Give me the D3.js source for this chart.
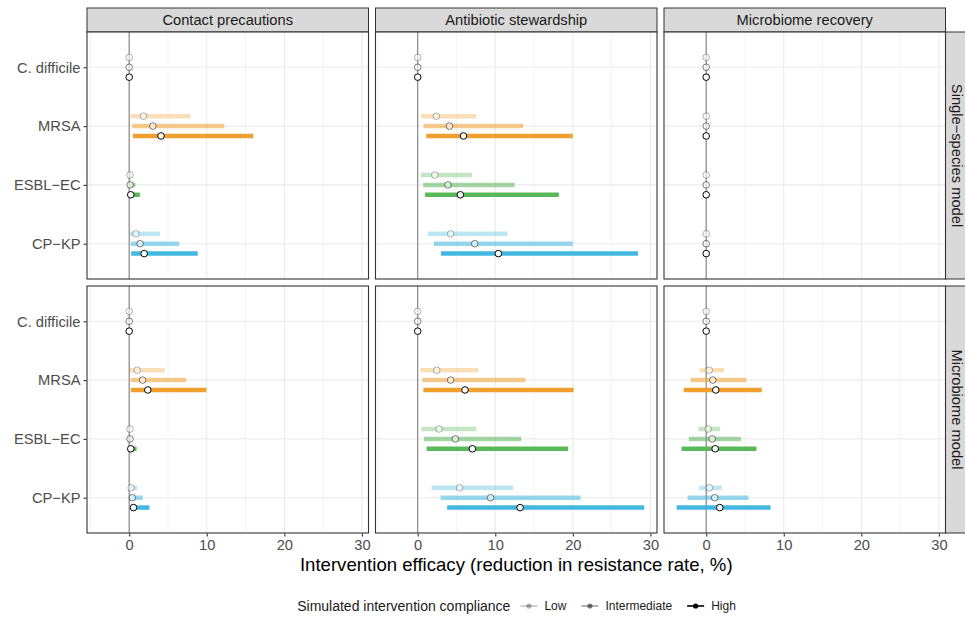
<!DOCTYPE html>
<html><head><meta charset="utf-8">
<script src="https://cdn.jsdelivr.net/npm/d3@7"></script>
<style>
body{margin:0;background:#fff}
svg{display:block}
text{font-family:"Liberation Sans",Arial,Helvetica,sans-serif}
</style>
</head><body>
<svg id="chart" width="965" height="617"></svg>
<script>
// ---------- data ----------
const interventions = ["Contact precautions", "Antibiotic stewardship", "Microbiome recovery"];
const models = ["Single\u2212species model", "Microbiome model"];
const organisms = ["C. difficile", "MRSA", "ESBL\u2212EC", "CP\u2212KP"];
const compliance = ["Low", "Intermediate", "High"];
const organismColors = ["#9a9a9a", "#F0A030", "#5AB75A", "#42B8E0"];
const xTickValues = [0, 10, 20, 30];
const xMinorValues = [-5, 5, 15, 25];

// each array: organism-major (C. difficile, MRSA, ESBL-EC, CP-KP), compliance-minor (Low, Intermediate, High)
// Single-species model
const ssContactMid = [0,0,0,  1.84,3.05,4.1,   0.1,0.13,0.2,  0.86,1.41,1.93];
const ssContactLo  = [0,0,0,  0.2,0.4,0.47,    0,0,0.2,       0.13,0.2,0.26];
const ssContactHi  = [0,0,0,  7.84,12.25,16.0, 0.3,0.8,1.37,  3.98,6.47,8.83];
const ssStewMid = [0,0,0,  2.4,4.1,5.9,    2.2,3.9,5.5,    4.25,7.35,10.4];
const ssStewLo  = [0,0,0,  0.45,0.75,1.1,  0.4,0.7,0.95,   1.3,2.1,3.0];
const ssStewHi  = [0,0,0,  7.55,13.6,20.0, 7.0,12.5,18.2,  11.6,20.0,28.4];
const ssMicroMid = [0,0,0, 0,0,0, 0,0,0, 0,0,0];
const ssMicroLo  = [0,0,0, 0,0,0, 0,0,0, 0,0,0];
const ssMicroHi  = [0,0,0, 0,0,0, 0,0,0, 0,0,0];
// Microbiome model
const mmContactMid = [0,0,0,  1.03,1.73,2.4,   0.1,0.1,0.2,  0.25,0.4,0.55];
const mmContactLo  = [0,0,0,  0.1,0.2,0.22,    0,0,0.1,      0,0.1,0.3];
const mmContactHi  = [0,0,0,  4.57,7.35,9.95,  0.1,0.2,0.95, 1.0,1.75,2.6];
const mmStewMid = [0,0,0,  2.45,4.25,6.1,   2.75,4.85,7.05,  5.4,9.4,13.2];
const mmStewLo  = [0,0,0,  0.35,0.6,0.73,   0.47,0.8,1.15,   1.8,2.95,3.8];
const mmStewHi  = [0,0,0,  7.8,13.9,20.1,   7.55,13.35,19.4, 12.3,21.0,29.2];
const mmMicroMid = [0,0,0,  0.39,0.85,1.24,  0.25,0.77,1.16,   0.42,1.1,1.75];
const mmMicroLo  = [0,0,0,  -0.86,-2.0,-2.9, -1.0,-2.24,-3.18, -0.9,-2.4,-3.8];
const mmMicroHi  = [0,0,0,  2.3,5.2,7.16,    1.8,4.5,6.47,     2.0,5.45,8.3];

const panelData = [
  [[ssContactMid, ssContactLo, ssContactHi], [ssStewMid, ssStewLo, ssStewHi], [ssMicroMid, ssMicroLo, ssMicroHi]],
  [[mmContactMid, mmContactLo, mmContactHi], [mmStewMid, mmStewLo, mmStewHi], [mmMicroMid, mmMicroLo, mmMicroHi]]
];

// ---------- layout ----------
const svg = d3.select("#chart");
const panelLeft = [87, 375.5, 664];
const panelW = 281.5;
const panelTop = [32, 286];
const panelH = 247;
const stripH = 24;
const stripW = 22;
const barAlpha = [0.35, 0.55, 1];
const ptAlpha = [0.3, 0.5, 1];
const dodge = [-0.168, 0, 0.168];
const axisTextCol = "#4d4d4d";

// top strips
interventions.forEach((name, c) => {
  svg.append("rect").attr("x", panelLeft[c]).attr("y", panelTop[0] - stripH)
    .attr("width", panelW).attr("height", stripH)
    .attr("fill", "#d9d9d9").attr("stroke", "#333").attr("stroke-width", 1);
  svg.append("text").attr("x", panelLeft[c] + panelW / 2).attr("y", panelTop[0] - stripH / 2)
    .attr("text-anchor", "middle").attr("dominant-baseline", "central")
    .attr("font-size", 14.7).attr("fill", "#1a1a1a").text(name);
});
// right strips
models.forEach((name, r) => {
  const sx = panelLeft[2] + panelW;
  svg.append("rect").attr("x", sx).attr("y", panelTop[r])
    .attr("width", stripW).attr("height", panelH)
    .attr("fill", "#d9d9d9").attr("stroke", "#333").attr("stroke-width", 1);
  svg.append("text")
    .attr("transform", `translate(${sx + stripW / 2 + 0.5},${panelTop[r] + panelH / 2}) rotate(90)`)
    .attr("text-anchor", "middle").attr("dominant-baseline", "central")
    .attr("font-size", 14.7).attr("fill", "#1a1a1a").text(name);
});

models.forEach((m, r) => {
  interventions.forEach((iv, c) => {
    const px = panelLeft[c], py = panelTop[r];
    const x = d3.scaleLinear().domain([-5.44, 30.85]).range([px, px + panelW]);
    const y = d3.scaleLinear().domain([0.4, 4.6]).range([py, py + panelH]);
    const g = svg.append("g");
    g.append("rect").attr("x", px).attr("y", py).attr("width", panelW).attr("height", panelH).attr("fill", "#fff");
    // grid
    g.selectAll(".vmin").data(xMinorValues).join("line")
      .attr("x1", d => x(d)).attr("x2", d => x(d)).attr("y1", py).attr("y2", py + panelH)
      .attr("stroke", "#ebebeb").attr("stroke-width", 0.6);
    g.selectAll(".vmaj").data(xTickValues).join("line")
      .attr("x1", d => x(d)).attr("x2", d => x(d)).attr("y1", py).attr("y2", py + panelH)
      .attr("stroke", "#ebebeb").attr("stroke-width", 1.1);
    g.selectAll(".hmaj").data(organisms).join("line")
      .attr("x1", px).attr("x2", px + panelW).attr("y1", (d, i) => y(i + 1)).attr("y2", (d, i) => y(i + 1))
      .attr("stroke", "#ebebeb").attr("stroke-width", 1.1);
    // zero reference line
    g.append("line").attr("x1", x(0)).attr("x2", x(0)).attr("y1", py).attr("y2", py + panelH)
      .attr("stroke", "#808080").attr("stroke-width", 1.1);

    const [mid, lo, hi] = panelData[r][c];
    const rows = [];
    organisms.forEach((o, oi) => compliance.forEach((cp, ci) => {
      const k = oi * 3 + ci;
      rows.push({oi, ci, mid: mid[k], lo: lo[k], hi: hi[k]});
    }));
    // ranges
    g.selectAll(".bar").data(rows).join("line")
      .attr("x1", d => x(d.lo)).attr("x2", d => x(d.hi))
      .attr("y1", d => y(d.oi + 1 + dodge[d.ci])).attr("y2", d => y(d.oi + 1 + dodge[d.ci]))
      .attr("stroke", d => organismColors[d.oi]).attr("stroke-opacity", d => barAlpha[d.ci])
      .attr("stroke-width", 4.5).attr("stroke-linecap", "butt");
    // points
    g.selectAll(".pt").data(rows).join("circle")
      .attr("cx", d => x(d.mid)).attr("cy", d => y(d.oi + 1 + dodge[d.ci])).attr("r", 3.3)
      .attr("fill", "#fff").attr("fill-opacity", d => d.ci === 2 ? 1 : 0.6)
      .attr("stroke", "#000").attr("stroke-opacity", d => ptAlpha[d.ci]).attr("stroke-width", 1);
    // border
    g.append("rect").attr("x", px).attr("y", py).attr("width", panelW).attr("height", panelH)
      .attr("fill", "none").attr("stroke", "#333").attr("stroke-width", 1.1);

    // axes
    if (c === 0) {
      const ax = svg.append("g").attr("transform", `translate(${px - 0.5},0)`)
        .call(d3.axisLeft(d3.scalePoint().domain(organisms).range([y(1), y(4)])).tickSize(3).tickPadding(3));
      ax.select(".domain").remove();
      ax.selectAll("line").attr("stroke", "#333").attr("stroke-width", 1.1);
      ax.selectAll("text").attr("font-size", 14.7).attr("fill", axisTextCol).attr("font-family", "Liberation Sans, Arial, sans-serif");
    }
    if (r === 1) {
      const ax = svg.append("g").attr("transform", `translate(0,${py + panelH + 0.5})`)
        .call(d3.axisBottom(x).tickValues(xTickValues).tickSize(3).tickPadding(3));
      ax.select(".domain").remove();
      ax.selectAll("line").attr("stroke", "#333").attr("stroke-width", 1.1);
      ax.selectAll("text").attr("font-size", 14.7).attr("fill", axisTextCol).attr("font-family", "Liberation Sans, Arial, sans-serif");
    }
  });
});

// x axis title
svg.append("text").attr("x", (panelLeft[0] + panelLeft[2] + panelW) / 2).attr("y", 571)
  .attr("text-anchor", "middle").attr("font-size", 18.6).attr("fill", "#000")
  .text("Intervention efficacy (reduction in resistance rate, %)");

// legend
const leg = svg.append("g");
const legY = 606;
const title = leg.append("text").attr("x", 0).attr("y", legY).attr("dominant-baseline", "central")
  .attr("font-size", 14).attr("fill", "#1a1a1a").text("Simulated intervention compliance");
let cx = title.node().getComputedTextLength() + 10;
compliance.forEach((lab, i) => {
  leg.append("line").attr("x1", cx).attr("x2", cx + 17).attr("y1", legY).attr("y2", legY)
    .attr("stroke", "#000").attr("stroke-opacity", ptAlpha[i]).attr("stroke-width", i === 2 ? 1.6 : 1.2);
  leg.append("circle").attr("cx", cx + 8.5).attr("cy", legY).attr("r", 2.6)
    .attr("fill", "#000").attr("fill-opacity", ptAlpha[i]);
  const t = leg.append("text").attr("x", cx + 24).attr("y", legY).attr("dominant-baseline", "central")
    .attr("font-size", 12).attr("fill", "#1a1a1a").text(lab);
  cx += 24 + t.node().getComputedTextLength() + 15;
});
const legW = cx - 15;
leg.attr("transform", `translate(${516.5 - legW / 2},0)`);
</script>
</body></html>
